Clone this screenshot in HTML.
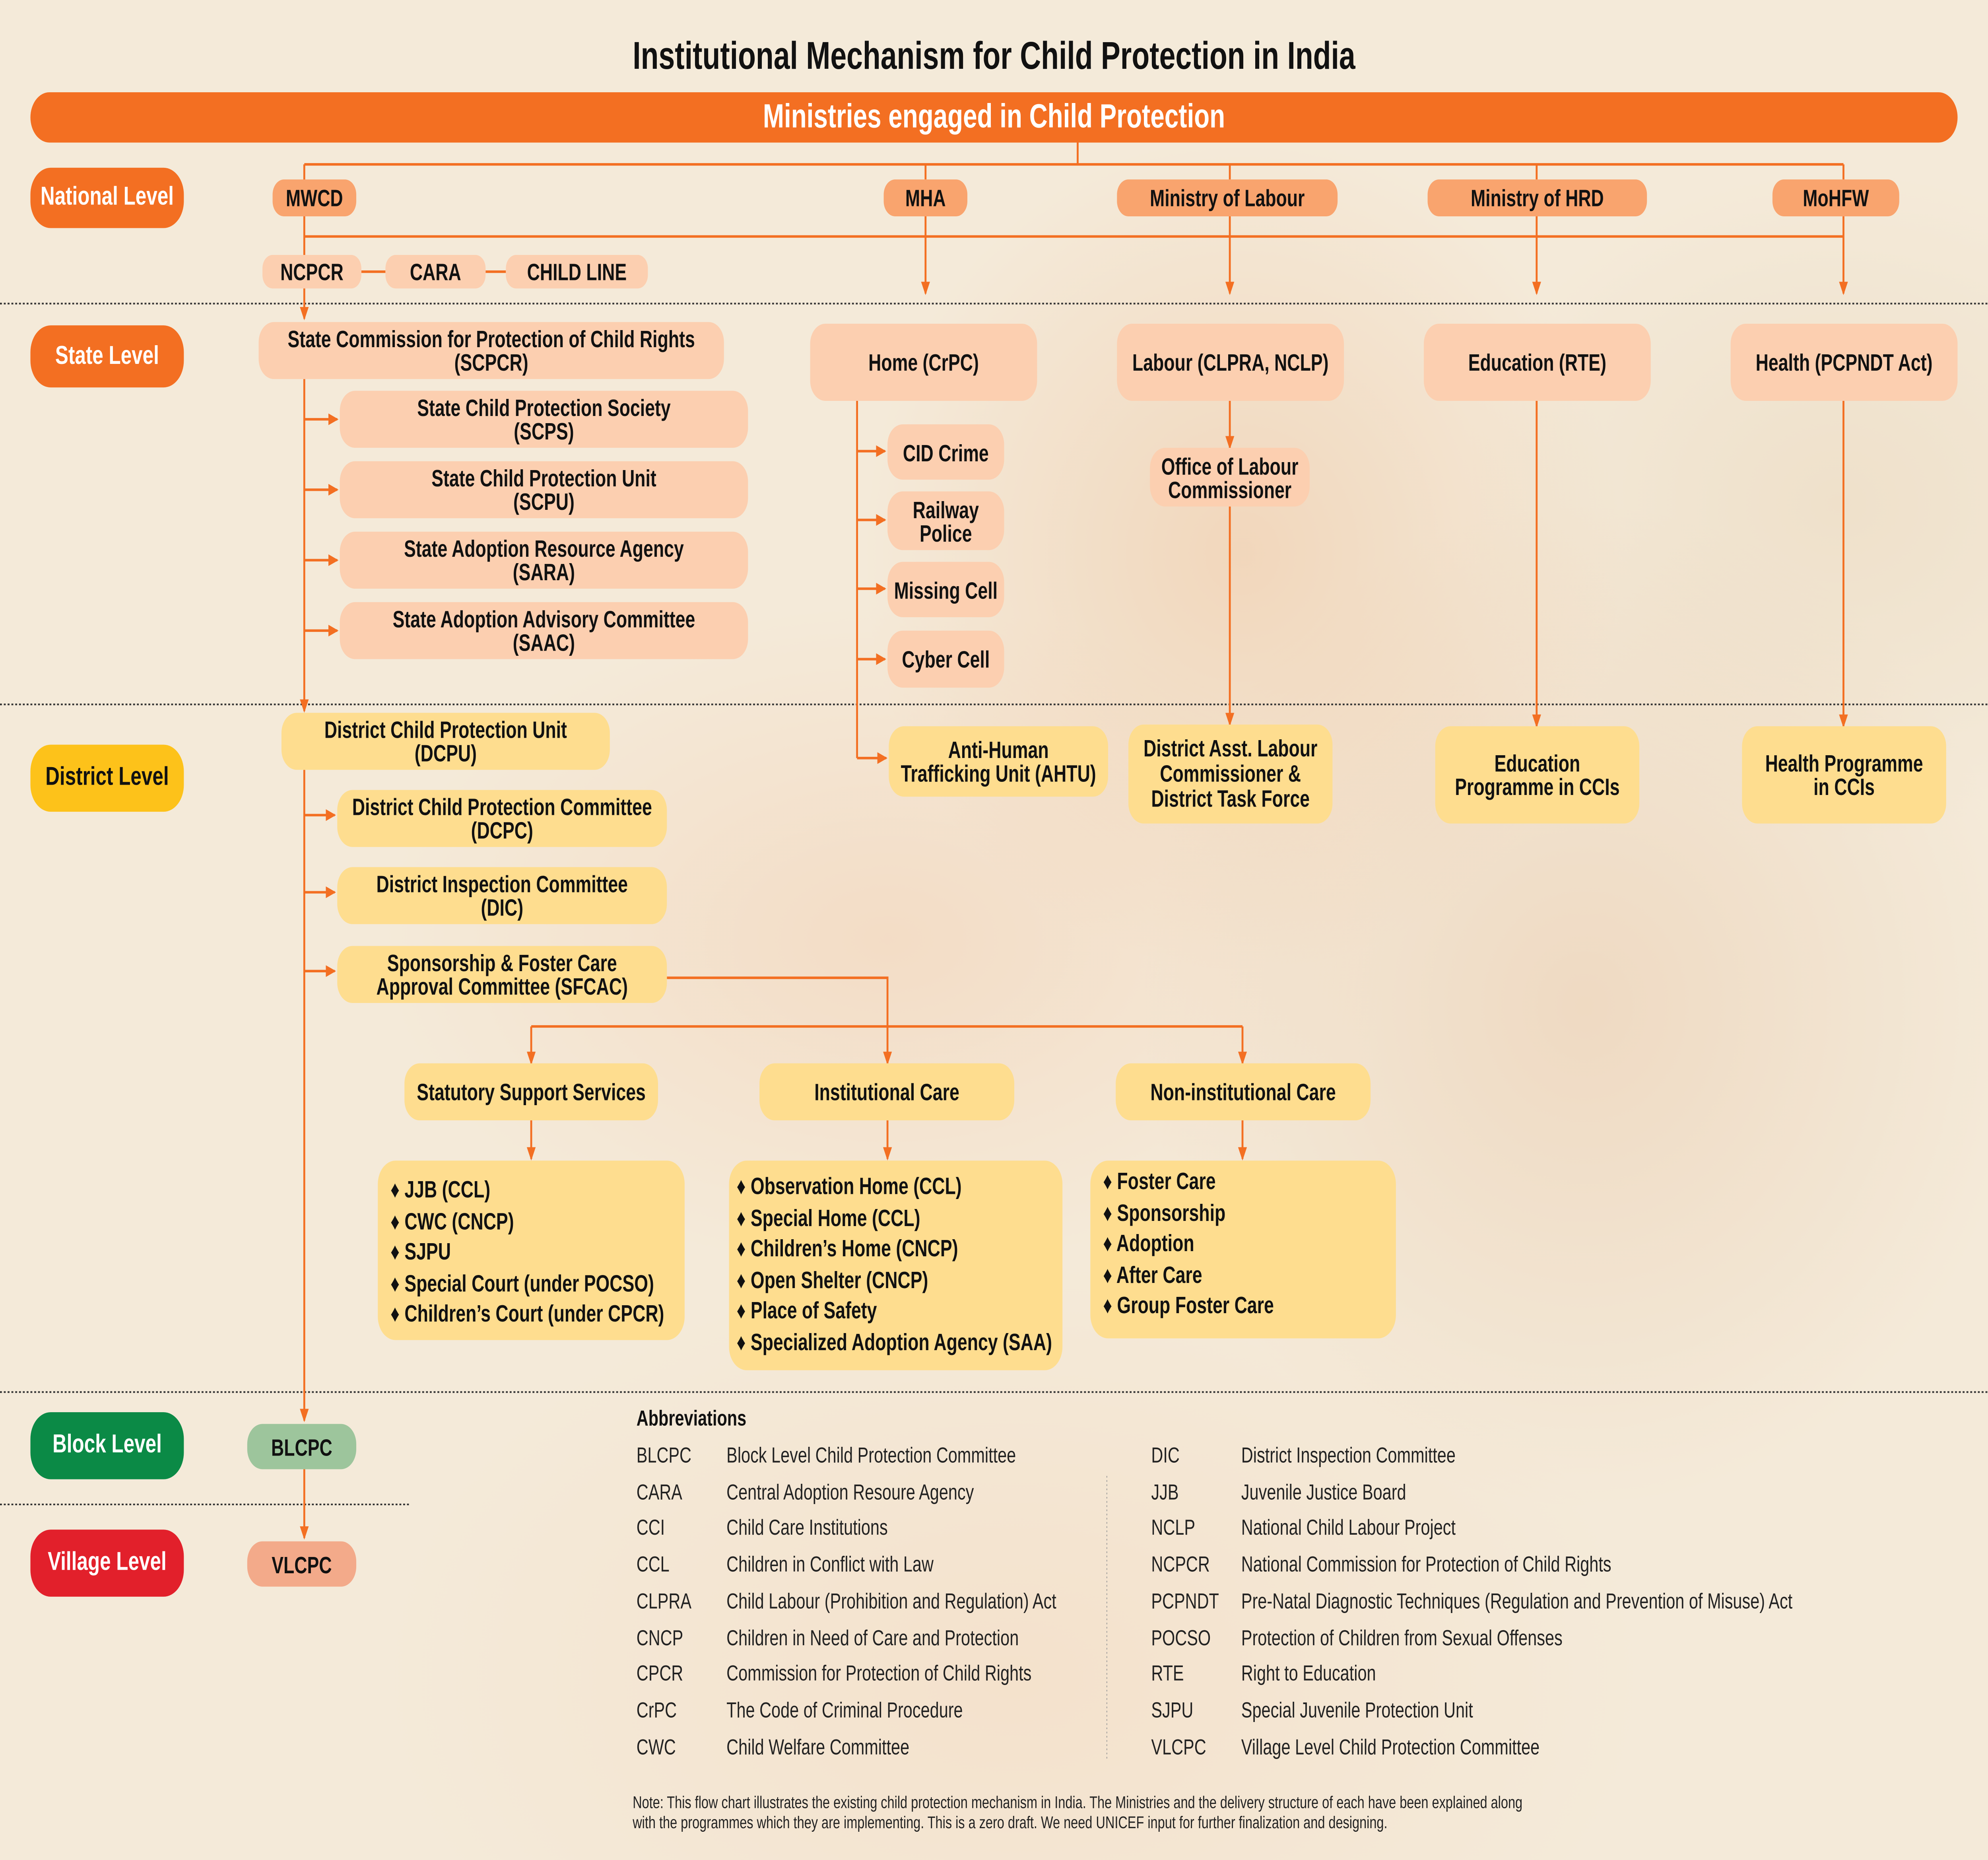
<!DOCTYPE html>
<html><head><meta charset="utf-8">
<style>
html,body{margin:0;padding:0;width:100vw;height:100vh;overflow:hidden;background:#f4ead9;}
#root{position:absolute;left:0;top:0;width:100vw;height:100vh;display:block;}
#s{position:absolute;left:0;top:0;width:1568px;height:1109px;
background:
radial-gradient(ellipse 300px 250px at 980px 330px,rgba(235,170,120,.3),transparent),
radial-gradient(ellipse 400px 200px at 700px 560px,rgba(240,180,140,.25),transparent),
radial-gradient(ellipse 350px 300px at 1250px 600px,rgba(225,175,135,.28),transparent),
radial-gradient(ellipse 300px 200px at 1450px 300px,rgba(220,190,150,.22),transparent),
radial-gradient(ellipse 500px 250px at 800px 1000px,rgba(245,200,165,.25),transparent),
#f4ead9;
font-family:"Liberation Sans Narrow","Liberation Sans",sans-serif;}
.b{position:absolute;display:flex;align-items:center;justify-content:center;text-align:center;font-weight:bold;font-size:14px;line-height:14px;color:#111;border-radius:12px;box-sizing:border-box;}
.m{background:#f9a46e;border-radius:9px;}
.p{background:#fccfb0;}
.y{background:#fedd8f;}
.lv{color:#fff;font-size:15.5px;border-radius:16px;}
.l{position:absolute;left:0;top:0;}
.list{position:absolute;background:#fedd8f;border-radius:14px;font-weight:bold;font-size:14px;line-height:18.5px;color:#111;box-sizing:border-box;}
.ab{position:absolute;font-size:13px;color:#222;line-height:21.7px;}
</style></head><body>
<svg id="root" viewBox="0 0 1568 1109" preserveAspectRatio="none" xmlns="http://www.w3.org/2000/svg">
<foreignObject x="0" y="0" width="1568" height="1109">
<div xmlns="http://www.w3.org/1999/xhtml" id="s">
<div style="position:absolute;left:0;width:1568px;top:20px;text-align:center;font-weight:bold;font-size:23px;color:#111;">Institutional Mechanism for Child Protection in India</div>
<div class="b" style="left:24px;top:55px;width:1520px;height:30px;background:#f36f22;border-radius:15px;color:#fff;font-size:20px;">Ministries engaged in Child Protection</div>

<svg class="l" width="1568" height="1109" viewBox="0 0 1568 1109" xmlns="http://www.w3.org/2000/svg">
<defs><marker id="a" markerWidth="8" markerHeight="8" refX="7" refY="4" orient="auto" markerUnits="userSpaceOnUse"><path d="M0,0.5 L8,4 L0,7.5 z" fill="#f36f22"/></marker></defs>
<g stroke="#333" stroke-width="1" stroke-dasharray="1.5 1.5">
<line x1="0" y1="181" x2="1568" y2="181"/><line x1="0" y1="420" x2="1568" y2="420"/><line x1="0" y1="830" x2="1568" y2="830"/><line x1="0" y1="897" x2="323" y2="897"/>
</g>
<line x1="873" y1="880" x2="873" y2="1050" stroke="#999" stroke-width="0.6" stroke-dasharray="1 1.5"/>
<g stroke="#f36f22" stroke-width="1.5" fill="none">
<line x1="850" y1="85" x2="850" y2="98"/>
<line x1="240" y1="98" x2="1454" y2="98"/>
<line x1="730" y1="98" x2="730" y2="107"/><line x1="970" y1="98" x2="970" y2="107"/><line x1="1212" y1="98" x2="1212" y2="107"/><line x1="1454" y1="98" x2="1454" y2="107"/>
<line x1="240" y1="141" x2="1454" y2="141"/>
<line x1="730" y1="129" x2="730" y2="175" marker-end="url(#a)"/>
<line x1="970" y1="129" x2="970" y2="175" marker-end="url(#a)"/>
<line x1="1212" y1="129" x2="1212" y2="175" marker-end="url(#a)"/>
<line x1="1454" y1="129" x2="1454" y2="175" marker-end="url(#a)"/>
<line x1="285" y1="162" x2="304" y2="162"/><line x1="383" y1="162" x2="399" y2="162"/>
<line x1="240" y1="98" x2="240" y2="190" marker-end="url(#a)"/>
<line x1="240" y1="226" x2="240" y2="424" marker-end="url(#a)"/>
<line x1="240" y1="250" x2="266" y2="250" marker-end="url(#a)"/>
<line x1="240" y1="292" x2="266" y2="292" marker-end="url(#a)"/>
<line x1="240" y1="334" x2="266" y2="334" marker-end="url(#a)"/>
<line x1="240" y1="376" x2="266" y2="376" marker-end="url(#a)"/>
<line x1="240" y1="459" x2="240" y2="847" marker-end="url(#a)"/>
<line x1="240" y1="486" x2="264" y2="486" marker-end="url(#a)"/>
<line x1="240" y1="532" x2="264" y2="532" marker-end="url(#a)"/>
<line x1="240" y1="579" x2="264" y2="579" marker-end="url(#a)"/>
<line x1="240" y1="876" x2="240" y2="917" marker-end="url(#a)"/>
<line x1="676" y1="239" x2="676" y2="452"/>
<line x1="676" y1="269" x2="698" y2="269" marker-end="url(#a)"/>
<line x1="676" y1="310" x2="698" y2="310" marker-end="url(#a)"/>
<line x1="676" y1="351" x2="698" y2="351" marker-end="url(#a)"/>
<line x1="676" y1="393" x2="698" y2="393" marker-end="url(#a)"/>
<line x1="676" y1="452" x2="699" y2="452" marker-end="url(#a)"/>
<line x1="970" y1="239" x2="970" y2="267" marker-end="url(#a)"/>
<line x1="970" y1="302" x2="970" y2="432" marker-end="url(#a)"/>
<line x1="1212" y1="239" x2="1212" y2="433" marker-end="url(#a)"/>
<line x1="1454" y1="239" x2="1454" y2="433" marker-end="url(#a)"/>
<polyline points="526,583 700,583 700,634" marker-end="url(#a)"/>
<line x1="419" y1="612" x2="980" y2="612"/>
<line x1="419" y1="612" x2="419" y2="634" marker-end="url(#a)"/>
<line x1="980" y1="612" x2="980" y2="634" marker-end="url(#a)"/>
<line x1="419" y1="668" x2="419" y2="691" marker-end="url(#a)"/>
<line x1="700" y1="668" x2="700" y2="691" marker-end="url(#a)"/>
<line x1="980" y1="668" x2="980" y2="691" marker-end="url(#a)"/>
</g>
</svg>

<div class="b lv" style="left:24px;top:100px;width:121px;height:36px;background:#f36f22;">National Level</div>
<div class="b lv" style="left:24px;top:194px;width:121px;height:37px;background:#f36f22;">State Level</div>
<div class="b lv" style="left:24px;top:444px;width:121px;height:40px;background:#fdc21a;color:#111;">District Level</div>
<div class="b lv" style="left:24px;top:842px;width:121px;height:40px;background:#0b8a46;">Block Level</div>
<div class="b lv" style="left:24px;top:912px;width:121px;height:40px;background:#e2202b;">Village Level</div>

<div class="b m" style="left:215px;top:107px;width:66px;height:22px;">MWCD</div>
<div class="b m" style="left:697px;top:107px;width:66px;height:22px;">MHA</div>
<div class="b m" style="left:881px;top:107px;width:174px;height:22px;">Ministry of Labour</div>
<div class="b m" style="left:1126px;top:107px;width:173px;height:22px;">Ministry of HRD</div>
<div class="b m" style="left:1398px;top:107px;width:100px;height:22px;">MoHFW</div>

<div class="b p" style="left:207px;top:152px;width:78px;height:20px;border-radius:8px;">NCPCR</div>
<div class="b p" style="left:304px;top:152px;width:79px;height:20px;border-radius:8px;">CARA</div>
<div class="b p" style="left:399px;top:152px;width:112px;height:20px;border-radius:8px;">CHILD LINE</div>

<div class="b p" style="left:204px;top:192px;width:367px;height:34px;">State Commission for Protection of Child Rights<br/>(SCPCR)</div>
<div class="b p" style="left:268px;top:233px;width:322px;height:34px;">State Child Protection Society<br/>(SCPS)</div>
<div class="b p" style="left:268px;top:275px;width:322px;height:34px;">State Child Protection Unit<br/>(SCPU)</div>
<div class="b p" style="left:268px;top:317px;width:322px;height:34px;">State Adoption Resource Agency<br/>(SARA)</div>
<div class="b p" style="left:268px;top:359px;width:322px;height:34px;">State Adoption Advisory Committee<br/>(SAAC)</div>

<div class="b p" style="left:639px;top:193px;width:179px;height:46px;">Home (CrPC)</div>
<div class="b p" style="left:881px;top:193px;width:179px;height:46px;">Labour (CLPRA, NCLP)</div>
<div class="b p" style="left:1123px;top:193px;width:179px;height:46px;">Education (RTE)</div>
<div class="b p" style="left:1365px;top:193px;width:179px;height:46px;">Health (PCPNDT Act)</div>

<div class="b p" style="left:700px;top:253px;width:92px;height:33px;">CID Crime</div>
<div class="b p" style="left:700px;top:293px;width:92px;height:35px;">Railway<br/>Police</div>
<div class="b p" style="left:700px;top:335px;width:92px;height:33px;">Missing Cell</div>
<div class="b p" style="left:700px;top:376px;width:92px;height:34px;">Cyber Cell</div>
<div class="b p" style="left:907px;top:267px;width:126px;height:35px;">Office of Labour<br/>Commissioner</div>

<div class="b y" style="left:701px;top:433px;width:173px;height:42px;">Anti-Human<br/>Trafficking Unit (AHTU)</div>
<div class="b y" style="left:890px;top:432px;width:161px;height:59px;line-height:15px;">District Asst. Labour<br/>Commissioner &amp;<br/>District Task Force</div>
<div class="b y" style="left:1132px;top:433px;width:161px;height:58px;">Education<br/>Programme in CCIs</div>
<div class="b y" style="left:1374px;top:433px;width:161px;height:58px;">Health Programme<br/>in CCIs</div>

<div class="b y" style="left:222px;top:425px;width:259px;height:34px;">District Child Protection Unit<br/>(DCPU)</div>
<div class="b y" style="left:266px;top:471px;width:260px;height:34px;">District Child Protection Committee<br/>(DCPC)</div>
<div class="b y" style="left:266px;top:517px;width:260px;height:34px;">District Inspection Committee<br/>(DIC)</div>
<div class="b y" style="left:266px;top:564px;width:260px;height:34px;">Sponsorship &amp; Foster Care<br/>Approval Committee (SFCAC)</div>

<div class="b y" style="left:319px;top:634px;width:200px;height:34px;">Statutory Support Services</div>
<div class="b y" style="left:599px;top:634px;width:201px;height:34px;">Institutional Care</div>
<div class="b y" style="left:880px;top:634px;width:201px;height:34px;">Non-institutional Care</div>

<div class="list" style="left:298px;top:692px;width:242px;height:107px;padding:8px 0 0 10px;">♦ JJB (CCL)<br/>♦ CWC (CNCP)<br/>♦ SJPU<br/>♦ Special Court (under POCSO)<br/>♦ Children’s Court (under CPCR)</div>
<div class="list" style="left:575px;top:692px;width:263px;height:125px;padding:6px 0 0 6px;">♦ Observation Home (CCL)<br/>♦ Special Home (CCL)<br/>♦ Children’s Home (CNCP)<br/>♦ Open Shelter (CNCP)<br/>♦ Place of Safety<br/>♦ Specialized Adoption Agency (SAA)</div>
<div class="list" style="left:860px;top:692px;width:241px;height:106px;padding:3px 0 0 10px;">♦ Foster Care<br/>♦ Sponsorship<br/>♦ Adoption<br/>♦ After Care<br/>♦ Group Foster Care</div>

<div class="b" style="left:195px;top:849px;width:86px;height:27px;background:#9dc59c;">BLCPC</div>
<div class="b" style="left:195px;top:919px;width:86px;height:27px;background:#f3aa8a;">VLCPC</div>

<div style="position:absolute;left:502px;top:838px;font-weight:bold;font-size:13px;color:#111;">Abbreviations</div>
<div class="ab" style="left:502px;top:857px;">BLCPC<br/>CARA<br/>CCI<br/>CCL<br/>CLPRA<br/>CNCP<br/>CPCR<br/>CrPC<br/>CWC</div>
<div class="ab" style="left:573px;top:857px;">Block Level Child Protection Committee<br/>Central Adoption Resoure Agency<br/>Child Care Institutions<br/>Children in Conflict with Law<br/>Child Labour (Prohibition and Regulation) Act<br/>Children in Need of Care and Protection<br/>Commission for Protection of Child Rights<br/>The Code of Criminal Procedure<br/>Child Welfare Committee</div>
<div class="ab" style="left:908px;top:857px;">DIC<br/>JJB<br/>NCLP<br/>NCPCR<br/>PCPNDT<br/>POCSO<br/>RTE<br/>SJPU<br/>VLCPC</div>
<div class="ab" style="left:979px;top:857px;">District Inspection Committee<br/>Juvenile Justice Board<br/>National Child Labour Project<br/>National Commission for Protection of Child Rights<br/>Pre-Natal Diagnostic Techniques (Regulation and Prevention of Misuse) Act<br/>Protection of Children from Sexual Offenses<br/>Right to Education<br/>Special Juvenile Protection Unit<br/>Village Level Child Protection Committee</div>
<div style="position:absolute;left:499px;top:1070px;font-size:10.2px;line-height:12px;color:#222;">Note: This flow chart illustrates the existing child protection mechanism in India. The Ministries and the delivery structure of each have been explained along<br/>with the programmes which they are implementing. This is a zero draft. We need UNICEF input for further finalization and designing.</div>
</div>
</foreignObject>
</svg>
</body></html>
